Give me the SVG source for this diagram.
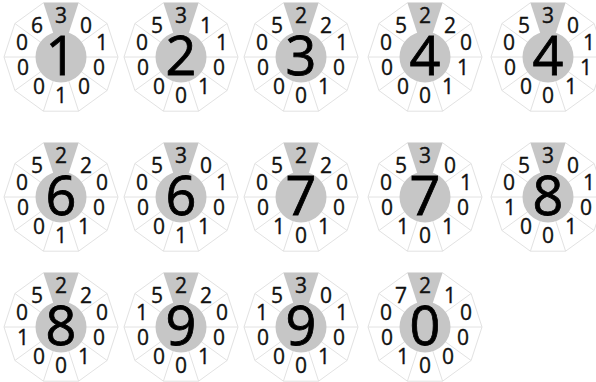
<svg xmlns="http://www.w3.org/2000/svg" xmlns:xlink="http://www.w3.org/1999/xlink" width="596" height="382" viewBox="0 0 596 382">
<style>
.ln{fill:none;stroke:#e2e2e2;stroke-width:1}
.gr{fill:#c6c6c6}
.n{font-family:"Open Sans","Noto Sans",sans-serif;font-size:21px;fill:#111;stroke:#111;stroke-width:0.35;text-anchor:middle}
.d{font-family:"Open Sans","Noto Sans",sans-serif;font-size:54px;fill:#000;stroke:#000;stroke-width:0.8;text-anchor:middle}
</style>
<defs>
<g id="base">
<polygon class="ln" points="57,0 46.1,-33.5 17.6,-54.2 -17.6,-54.2 -46.1,-33.5 -57,0 -46.1,33.5 -17.6,54.2 17.6,54.2 46.1,33.5"/>
<path class="ln" d="M0,0L57,0M0,0L46.1,-33.5M0,0L-46.1,-33.5M0,0L-57,0M0,0L-46.1,33.5M0,0L-17.6,54.2M0,0L17.6,54.2M0,0L46.1,33.5"/>
<polygon class="gr" points="0,0 17.6,-54.2 -17.6,-54.2"/>
<circle class="gr" cx="0" cy="0" r="25.5"/>
</g>
</defs>
<rect width="596" height="382" fill="#fff"/>

<g id="dial-1" transform="translate(61,57)"><use xlink:href="#base"/>
<text class="d" x="0" y="18">1</text>
<text class="n" x="0" y="-34">3</text><text class="n" x="25" y="-24.5">0</text><text class="n" x="41" y="-7.5">1</text><text class="n" x="38" y="17.5">0</text><text class="n" x="23" y="36.5">0</text><text class="n" x="0" y="45.5">1</text><text class="n" x="-22" y="36.5">0</text><text class="n" x="-38" y="17.5">0</text><text class="n" x="-39" y="-7.5">0</text><text class="n" x="-24" y="-24.5">6</text></g>

<g id="dial-2" transform="translate(181,57)"><use xlink:href="#base"/>
<text class="d" x="0" y="18">2</text>
<text class="n" x="0" y="-34">3</text><text class="n" x="25" y="-24.5">1</text><text class="n" x="41" y="-7.5">1</text><text class="n" x="38" y="17.5">0</text><text class="n" x="23" y="36.5">1</text><text class="n" x="0" y="45.5">0</text><text class="n" x="-22" y="36.5">0</text><text class="n" x="-38" y="17.5">0</text><text class="n" x="-39" y="-7.5">0</text><text class="n" x="-24" y="-24.5">5</text></g>

<g id="dial-3" transform="translate(301,57)"><use xlink:href="#base"/>
<text class="d" x="0" y="18">3</text>
<text class="n" x="0" y="-34">2</text><text class="n" x="25" y="-24.5">2</text><text class="n" x="41" y="-7.5">1</text><text class="n" x="38" y="17.5">0</text><text class="n" x="23" y="36.5">1</text><text class="n" x="0" y="45.5">0</text><text class="n" x="-22" y="36.5">0</text><text class="n" x="-38" y="17.5">0</text><text class="n" x="-39" y="-7.5">0</text><text class="n" x="-24" y="-24.5">5</text></g>

<g id="dial-4" transform="translate(425,57)"><use xlink:href="#base"/>
<text class="d" x="0" y="18">4</text>
<text class="n" x="0" y="-34">2</text><text class="n" x="25" y="-24.5">2</text><text class="n" x="41" y="-7.5">0</text><text class="n" x="38" y="17.5">1</text><text class="n" x="23" y="36.5">1</text><text class="n" x="0" y="45.5">0</text><text class="n" x="-22" y="36.5">0</text><text class="n" x="-38" y="17.5">0</text><text class="n" x="-39" y="-7.5">0</text><text class="n" x="-24" y="-24.5">5</text></g>

<g id="dial-5" transform="translate(548,57)"><use xlink:href="#base"/>
<text class="d" x="0" y="18">4</text>
<text class="n" x="0" y="-34">3</text><text class="n" x="25" y="-24.5">0</text><text class="n" x="41" y="-7.5">1</text><text class="n" x="38" y="17.5">1</text><text class="n" x="23" y="36.5">1</text><text class="n" x="0" y="45.5">0</text><text class="n" x="-22" y="36.5">0</text><text class="n" x="-38" y="17.5">0</text><text class="n" x="-39" y="-7.5">0</text><text class="n" x="-24" y="-24.5">5</text></g>

<g id="dial-6" transform="translate(61,197)"><use xlink:href="#base"/>
<text class="d" x="0" y="18">6</text>
<text class="n" x="0" y="-34">2</text><text class="n" x="25" y="-24.5">2</text><text class="n" x="41" y="-7.5">0</text><text class="n" x="38" y="17.5">0</text><text class="n" x="23" y="36.5">1</text><text class="n" x="0" y="45.5">1</text><text class="n" x="-22" y="36.5">0</text><text class="n" x="-38" y="17.5">0</text><text class="n" x="-39" y="-7.5">0</text><text class="n" x="-24" y="-24.5">5</text></g>

<g id="dial-7" transform="translate(181,197)"><use xlink:href="#base"/>
<text class="d" x="0" y="18">6</text>
<text class="n" x="0" y="-34">3</text><text class="n" x="25" y="-24.5">0</text><text class="n" x="41" y="-7.5">1</text><text class="n" x="38" y="17.5">0</text><text class="n" x="23" y="36.5">1</text><text class="n" x="0" y="45.5">1</text><text class="n" x="-22" y="36.5">0</text><text class="n" x="-38" y="17.5">0</text><text class="n" x="-39" y="-7.5">0</text><text class="n" x="-24" y="-24.5">5</text></g>

<g id="dial-8" transform="translate(301,197)"><use xlink:href="#base"/>
<text class="d" x="0" y="18">7</text>
<text class="n" x="0" y="-34">2</text><text class="n" x="25" y="-24.5">2</text><text class="n" x="41" y="-7.5">0</text><text class="n" x="38" y="17.5">0</text><text class="n" x="23" y="36.5">1</text><text class="n" x="0" y="45.5">0</text><text class="n" x="-22" y="36.5">1</text><text class="n" x="-38" y="17.5">0</text><text class="n" x="-39" y="-7.5">0</text><text class="n" x="-24" y="-24.5">5</text></g>

<g id="dial-9" transform="translate(425,197)"><use xlink:href="#base"/>
<text class="d" x="0" y="18">7</text>
<text class="n" x="0" y="-34">3</text><text class="n" x="25" y="-24.5">0</text><text class="n" x="41" y="-7.5">1</text><text class="n" x="38" y="17.5">0</text><text class="n" x="23" y="36.5">1</text><text class="n" x="0" y="45.5">0</text><text class="n" x="-22" y="36.5">1</text><text class="n" x="-38" y="17.5">0</text><text class="n" x="-39" y="-7.5">0</text><text class="n" x="-24" y="-24.5">5</text></g>

<g id="dial-10" transform="translate(548,197)"><use xlink:href="#base"/>
<text class="d" x="0" y="18">8</text>
<text class="n" x="0" y="-34">3</text><text class="n" x="25" y="-24.5">0</text><text class="n" x="41" y="-7.5">1</text><text class="n" x="38" y="17.5">0</text><text class="n" x="23" y="36.5">1</text><text class="n" x="0" y="45.5">0</text><text class="n" x="-22" y="36.5">0</text><text class="n" x="-38" y="17.5">1</text><text class="n" x="-39" y="-7.5">0</text><text class="n" x="-24" y="-24.5">5</text></g>

<g id="dial-11" transform="translate(61,327)"><use xlink:href="#base"/>
<text class="d" x="0" y="18">8</text>
<text class="n" x="0" y="-34">2</text><text class="n" x="25" y="-24.5">2</text><text class="n" x="41" y="-7.5">0</text><text class="n" x="38" y="17.5">0</text><text class="n" x="23" y="36.5">1</text><text class="n" x="0" y="45.5">0</text><text class="n" x="-22" y="36.5">0</text><text class="n" x="-38" y="17.5">1</text><text class="n" x="-39" y="-7.5">0</text><text class="n" x="-24" y="-24.5">5</text></g>

<g id="dial-12" transform="translate(181,327)"><use xlink:href="#base"/>
<text class="d" x="0" y="18">9</text>
<text class="n" x="0" y="-34">2</text><text class="n" x="25" y="-24.5">2</text><text class="n" x="41" y="-7.5">0</text><text class="n" x="38" y="17.5">0</text><text class="n" x="23" y="36.5">1</text><text class="n" x="0" y="45.5">0</text><text class="n" x="-22" y="36.5">0</text><text class="n" x="-38" y="17.5">0</text><text class="n" x="-39" y="-7.5">1</text><text class="n" x="-24" y="-24.5">5</text></g>

<g id="dial-13" transform="translate(301,327)"><use xlink:href="#base"/>
<text class="d" x="0" y="18">9</text>
<text class="n" x="0" y="-34">3</text><text class="n" x="25" y="-24.5">0</text><text class="n" x="41" y="-7.5">1</text><text class="n" x="38" y="17.5">0</text><text class="n" x="23" y="36.5">1</text><text class="n" x="0" y="45.5">0</text><text class="n" x="-22" y="36.5">0</text><text class="n" x="-38" y="17.5">0</text><text class="n" x="-39" y="-7.5">1</text><text class="n" x="-24" y="-24.5">5</text></g>

<g id="dial-14" transform="translate(425,327)"><use xlink:href="#base"/>
<text class="d" x="0" y="18">0</text>
<text class="n" x="0" y="-34">2</text><text class="n" x="25" y="-24.5">1</text><text class="n" x="41" y="-7.5">0</text><text class="n" x="38" y="17.5">0</text><text class="n" x="23" y="36.5">0</text><text class="n" x="0" y="45.5">0</text><text class="n" x="-22" y="36.5">1</text><text class="n" x="-38" y="17.5">0</text><text class="n" x="-39" y="-7.5">0</text><text class="n" x="-24" y="-24.5">7</text></g>
</svg>
